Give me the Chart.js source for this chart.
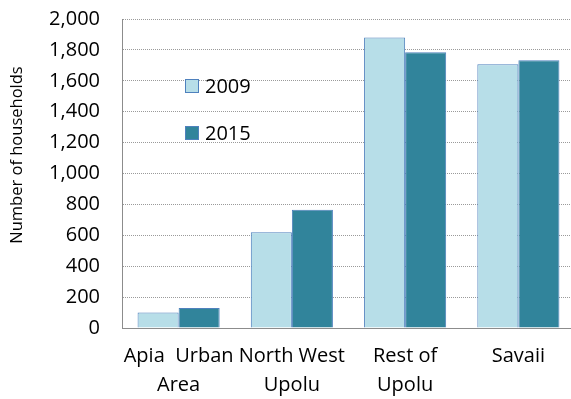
<!DOCTYPE html>
<html>
<head>
<meta charset="utf-8">
<script src="https://cdn.jsdelivr.net/npm/chart.js@4"></script>
<style>
  html, body { margin: 0; padding: 0; background: #fff; overflow: hidden; }
  #wrap { width: 580px; height: 399px; }
</style>
</head>
<body>
<div id="wrap"><canvas id="households"></canvas></div>
<script>
// households by region, two survey years
const regions = [['Apia  Urban', 'Area'], ['North West', 'Upolu'], ['Rest of', 'Upolu'], ['Savaii']];
const years = ['2009', '2015'];
const households2009 = [100, 620, 1880, 1707];
const households2015 = [130, 765, 1785, 1733];
const yTitle = 'Number of households';

const fontFamily = '"Open Sans", "Liberation Sans", sans-serif';

// legend drawn inside the plot area, two rows
const innerLegend = {
    id: 'innerLegend',
    afterDraw(chart, args, opts) {
        const ctx = chart.ctx;
        const area = chart.chartArea;
        ctx.save();
        ctx.font = opts.fontSize + 'px ' + fontFamily;
        ctx.textBaseline = 'middle';
        ctx.textAlign = 'left';
        chart.data.datasets.forEach(function (ds, i) {
            const bx = area.left + opts.left;
            const by = area.top + opts.top + i * opts.rowGap;
            ctx.fillStyle = ds.backgroundColor;
            ctx.fillRect(bx, by, opts.box, opts.box);
            ctx.strokeStyle = ds.borderColor;
            ctx.lineWidth = 1;
            ctx.strokeRect(bx + 0.5, by + 0.5, opts.box - 1, opts.box - 1);
            ctx.fillStyle = '#000';
            ctx.fillText(ds.label, bx + opts.box + 6, by + opts.box / 2 + 1);
        });
        ctx.restore();
    }
};

// rotated y axis title, sitting a bit above the middle of the axis
const axisTitle = {
    id: 'axisTitle',
    afterDraw(chart, args, opts) {
        const ctx = chart.ctx;
        ctx.save();
        ctx.translate(opts.x, chart.chartArea.top + opts.y);
        ctx.rotate(-Math.PI / 2);
        ctx.font = opts.fontSize + 'px ' + fontFamily;
        ctx.fillStyle = '#000';
        ctx.textAlign = 'center';
        ctx.textBaseline = 'middle';
        ctx.fillText(opts.text, 0, 0);
        ctx.restore();
    }
};

const ctx = document.getElementById('households');
const data = {
    labels: regions,
    datasets: [
        {
            label: years[0],
            data: households2009,
            backgroundColor: '#B7DEE8',
            borderColor: '#4F81BD',
            borderWidth: 1
        },
        {
            label: years[1],
            data: households2015,
            backgroundColor: '#31849B',
            borderColor: '#4F81BD',
            borderWidth: 1
        }
    ]
};

const options = {
    responsive: true,
    maintainAspectRatio: false,
    animation: false,
    layout: { padding: { left: 3, top: 19, right: 5, bottom: 0 } },
    datasets: {
        bar: { barPercentage: 1, categoryPercentage: 0.725 }
    },
    scales: {
        x: {
            grid: { display: false, drawTicks: false },
            border: { color: '#8c8c8c', width: 1 },
            ticks: {
                color: '#000',
                padding: 14,
                autoSkip: false,
                maxRotation: 0,
                font: { family: fontFamily, size: 20, lineHeight: 1.45 }
            },
            afterFit: function (scale) {
                scale.height = 71;
                scale.paddingLeft = 0;
                scale.paddingRight = 0;
            }
        },
        y: {
            min: 0,
            max: 2000,
            grid: { color: '#9a9a9a', lineWidth: 1, drawTicks: false },
            border: { color: '#8c8c8c', width: 1, dash: [1, 1] },
            ticks: {
                stepSize: 200,
                color: '#000',
                padding: 22,
                font: { family: fontFamily, size: 20 },
                callback: function (v) { return v.toLocaleString('en-US'); }
            },
            afterFit: function (scale) {
                scale.width = 119;
                scale.paddingTop = 0;
                scale.paddingBottom = 0;
            }
        }
    },
    plugins: {
        legend: { display: false },
        tooltip: { enabled: false },
        innerLegend: { left: 63, top: 60, rowGap: 47, box: 14, fontSize: 20 },
        axisTitle: { text: yTitle, x: 17, y: 136, fontSize: 16.5 }
    }
};

new Chart(ctx, {
    type: 'bar',
    data: data,
    options: options,
    plugins: [innerLegend, axisTitle]
});
</script>
</body>
</html>
